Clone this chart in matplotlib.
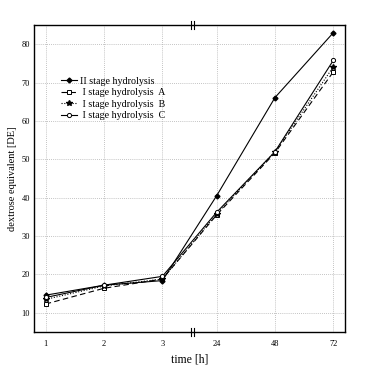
import matplotlib
matplotlib.use("Agg")
import matplotlib.pyplot as plt

# data
time_labels = ["1", "2", "3", "24", "48", "72"]
x_pos = [0, 1, 2, 2.93, 3.93, 4.93]  # axis is broken between 3 h and 24 h
stage2 = [14.6, 17.2, 18.4, 40.5, 66.1, 83.0]
stage1_a = [12.3, 16.4, 18.8, 35.5, 51.7, 72.8]
stage1_b = [13.5, 17.0, 18.8, 35.8, 52.0, 74.1]
stage1_c = [14.0, 17.2, 19.5, 36.2, 52.0, 75.8]
y_ticks = [10, 20, 30, 40, 50, 60, 70, 80]

plt.rcParams['font.family'] = ['Liberation Serif', 'DejaVu Serif']

fig = plt.figure(figsize=(3.68, 3.68), dpi=100)
ax = fig.add_axes([0.0924, 0.0978, 0.8451, 0.8342])

ax.plot(x_pos, stage2, color="black", lw=0.8, ls="-", marker="D", ms=2.5,
        mfc="black", mec="black", label="II stage hydrolysis")
ax.plot(x_pos, stage1_a, color="black", lw=0.8, ls=(0, (5, 3)), marker="s", ms=3.5,
        mfc="white", mec="black", mew=0.7, label=" I stage hydrolysis  A")
ax.plot(x_pos, stage1_b, color="black", lw=0.8, ls=(0, (1, 1.5)), marker="*", ms=4,
        mfc="black", mec="black", label=" I stage hydrolysis  B")
ax.plot(x_pos, stage1_c, color="black", lw=0.8, ls="-", marker="o", ms=3,
        mfc="white", mec="black", mew=0.7, label=" I stage hydrolysis  C")

ax.set_xlim(-0.2, 5.13)
ax.set_ylim(5, 85)
ax.set_xticks(x_pos)
ax.set_xticklabels(time_labels)
ax.set_yticks(y_ticks)
ax.tick_params(axis="both", labelsize=6, length=0, pad=3)
ax.tick_params(axis="x", pad=6)
ax.grid(True, color="#b0b0b0", ls=(0, (1, 1.5)), lw=0.6)
for s in ax.spines.values():
    s.set_linewidth(1.0)

# axis break marks on top and bottom spines
brk = (x_pos[2] + x_pos[3]) / 2 + 0.05
for yb in (0, 1):
    for dx in (-0.03, 0.03):
        ax.plot([brk + dx, brk + dx], [yb - 0.014, yb + 0.014], color="black", lw=0.8,
                transform=ax.get_xaxis_transform(), clip_on=False)

ax.set_xlabel("time [h]", fontsize=8.5, labelpad=4)
ax.set_ylabel("dextrose equivalent [DE]", fontsize=7.5, labelpad=3)

ax.legend(loc="upper left", bbox_to_anchor=(0.075, 0.845), frameon=False, fontsize=7.2,
          handlelength=1.6, handletextpad=0.3, labelspacing=0.25, borderaxespad=0)

fig.savefig("out.png", dpi=100)
